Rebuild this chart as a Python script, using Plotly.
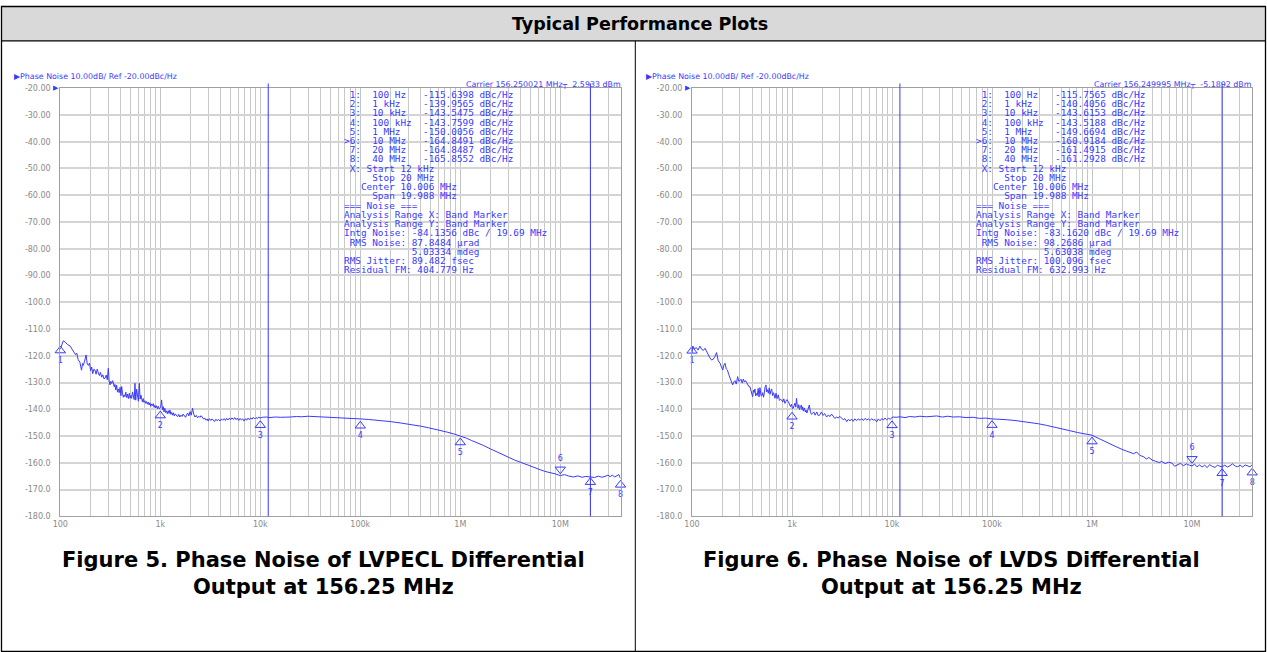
import numpy as np
import plotly.graph_objects as go

W, H = 1267, 652
BLUE = "#3a3aff"

# ---------------- data ----------------
freq_pecl = [100, 104, 107, 112, 118, 125, 131, 137, 142, 146, 151, 157, 160, 163, 167, 170, 175, 181, 186, 191,
             196, 201, 206, 211, 216, 222, 228, 234, 240, 246, 252, 259, 266, 273, 280, 288, 295, 302, 308,
             314, 320, 327, 333, 339, 346, 352, 359, 366, 373, 381, 389, 396, 404, 411, 419, 427, 434, 443, 452,
             461, 470, 480, 490, 500, 508, 517, 527, 537, 548, 558, 568, 580, 592, 604, 617, 628, 640, 651, 663,
             675, 687, 700, 715, 729, 743, 758, 773, 787, 803, 819, 835, 850, 867, 884, 900, 917, 935, 955, 977,
             1000, 1015, 1030, 1050, 1070, 1090, 1110, 1130, 1150, 1175, 1200, 1225, 1250, 1275, 1300, 1325, 1350,
             1380, 1410, 1450, 1490, 1530, 1570, 1610, 1650, 1690, 1740, 1790, 1830, 1880, 1930, 1980, 2040, 2100,
             2160, 2220, 2290, 2360, 2430, 2490, 2560, 2640, 2720, 2790, 2870, 2950, 3010, 3100, 3200, 3300, 3380,
             3480, 3600, 3700, 3820, 3950, 4080, 4200, 4350, 4480, 4600, 4750, 4900, 5050, 5200, 5380, 5550, 5720,
             5900, 6080, 6270, 6470, 6670, 6880, 7100, 7300, 7530, 7770, 8020, 8270, 8520, 8800, 9070, 9350, 9650,
             9940, 10500, 11500, 12500, 14000, 16000, 18000, 20000, 23000, 26000, 30000, 34000, 39000, 45000,
             52000, 60000, 70000, 80000, 90000, 100000, 120000, 140000, 170000, 200000, 250000, 300000, 350000,
             400000, 480000, 560000, 650000, 750000, 860000, 1000000, 1150000, 1300000, 1500000, 1700000, 2000000,
             2300000, 2600000, 3000000, 3500000, 4000000, 4500000, 5000000, 5600000, 6300000, 7000000, 8000000,
             9000000, 10000000, 11000000, 12000000, 13500000, 15000000, 16500000, 18000000, 20000000, 22000000,
             24000000, 26000000, 28000000, 30000000, 31500000, 33000000, 35000000, 37000000, 38500000, 40000000]
pn_pecl = [-117.6, -115.8, -114.4, -114.9, -115.8, -116.3, -117.5, -118.2, -119.6, -119.0, -121.5, -122.4, -124.6,
           -125.4, -122.9, -123.6, -122.0, -119.7, -123.1, -123.6, -122.7, -125.6, -124.2, -126.7, -125.1, -125.3,
           -126.9, -125.0, -126.4, -127.4, -126.2, -128.0, -127.1, -128.6, -128.4, -127.2, -129.0, -124.7, -129.4,
           -130.9, -129.6, -130.4, -129.3, -129.9, -131.6, -130.7, -132.8, -131.0, -133.6, -132.4, -133.8, -131.8,
           -134.9, -131.5, -134.1, -135.5, -134.6, -135.3, -133.6, -135.6, -134.3, -136.0, -134.0, -135.9, -134.8,
           -135.9, -133.5, -135.2, -136.4, -130.3, -136.6, -132.5, -135.4, -137.0, -130.3, -136.2, -134.7, -136.4,
           -137.3, -136.0, -137.4, -136.8, -137.8, -137.1, -138.1, -137.3, -138.4, -137.6, -138.9, -138.0, -138.6,
           -137.9, -139.3, -138.5, -139.5, -138.7, -139.8, -138.9, -139.9, -139.4, -138.6, -136.5, -140.2, -139.0,
           -141.0, -139.6, -141.2, -140.6, -141.7, -140.5, -141.6, -140.3, -141.9, -141.2, -142.2, -141.3, -142.5,
           -141.7, -142.1, -142.8, -141.9, -142.9, -142.2, -142.7, -141.8, -142.6, -143.0, -142.1, -141.4, -142.5,
           -140.9, -142.2, -139.6, -141.8, -142.9, -142.3, -143.2, -142.6, -143.0, -142.4, -143.1, -143.7, -143.3,
           -144.1, -143.6, -144.4, -143.5, -144.2, -143.6, -144.0, -144.6, -143.7, -144.3, -143.8, -144.4, -143.6,
           -144.1, -143.5, -144.2, -143.4, -144.0, -143.3, -143.9, -143.2, -143.8, -143.1, -143.9, -143.3, -144.2,
           -143.4, -144.0, -143.6, -144.4, -143.5, -144.1, -143.3, -143.9, -143.2, -143.7, -143.0, -143.6, -143.1,
           -143.5, -142.9, -143.3, -143.0, -142.9, -143.1, -142.9, -143.0, -142.8, -142.9, -142.7, -142.8, -142.6,
           -142.7, -142.8, -142.7, -142.9, -143.0, -143.1, -143.3, -143.4, -143.6, -143.8, -144.0, -144.3, -144.6,
           -145.1, -145.5, -145.9, -146.3, -146.9, -147.4, -148.0, -148.6, -149.2, -150.0, -150.8, -151.7, -152.6,
           -153.5, -154.8, -155.9, -156.9, -157.9, -159.0, -159.8, -160.6, -161.3, -161.9, -162.6, -163.2, -163.6,
           -164.2, -164.8, -164.4, -164.9, -165.3, -164.9, -165.4, -165.1, -165.2, -165.5, -165.0, -165.4, -165.1,
           -164.6, -165.2, -164.6, -165.3, -164.8, -164.4, -165.9]

freq_lvds = [100, 102, 106, 111, 115, 120, 125, 130, 135, 140, 146, 151, 157, 163, 170, 176, 183, 191, 197, 203,
             209, 214, 220, 226, 233, 240, 248, 255, 262, 269, 277, 286, 294, 302, 310, 318, 326, 335, 343, 352,
             361, 370, 380, 392, 404, 412, 419, 426, 433, 442, 450, 459, 468, 478, 490, 500, 509, 520, 530, 540,
             549, 558, 569, 580, 592, 604, 615, 626, 640, 655, 676, 692, 710, 730, 748, 766, 787, 808, 828, 850,
             870, 890, 918, 940, 968, 990, 1010, 1030, 1050, 1070, 1090, 1110, 1130, 1150, 1170, 1190, 1210, 1240,
             1260, 1280, 1300, 1330, 1360, 1380, 1410, 1440, 1490, 1530, 1570, 1610, 1650, 1700, 1770, 1830, 1900,
             1970, 2050, 2120, 2220, 2300, 2400, 2490, 2580, 2680, 2800, 2900, 3000, 3140, 3250, 3380, 3530, 3650,
             3800, 3960, 4100, 4250, 4440, 4600, 4800, 4980, 5180, 5380, 5590, 5820, 6050, 6270, 6500, 6760, 7030,
             7300, 7600, 7890, 8200, 8500, 8850, 9200, 9600, 10000, 10300, 11000, 12000, 13500, 15000, 17000,
             19000, 22000, 25000, 28000, 32000, 36000, 41000, 47000, 55000, 65000, 75000, 87000, 100000, 120000,
             140000, 170000, 200000, 240000, 290000, 350000, 420000, 500000, 600000, 720000, 850000, 1000000,
             1150000, 1300000, 1500000, 1700000, 2000000, 2300000, 2600000, 2800000, 3000000, 3300000, 3500000,
             3700000, 4000000, 4300000, 4700000, 5000000, 5400000, 5800000, 6300000, 6700000, 7200000, 7700000,
             8200000, 8800000, 9400000, 10000000, 10600000, 11200000, 11900000, 12600000, 13400000, 14200000,
             15000000, 16000000, 17000000, 18000000, 19000000, 20000000, 21300000, 22600000, 24000000, 25400000,
             27000000, 28600000, 30300000, 32100000, 34000000, 36000000, 38000000, 40000000]
pn_lvds = [-119.0, -116.4, -117.3, -117.0, -117.9, -116.4, -117.6, -118.0, -117.2, -118.4, -120.1, -120.8, -121.6,
           -121.3, -120.2, -118.8, -121.9, -122.8, -124.2, -125.3, -123.4, -122.8, -124.9, -125.3, -127.0, -128.4,
           -130.2, -130.9, -129.8, -129.3, -130.6, -127.8, -129.6, -129.1, -128.8, -130.2, -128.7, -129.8, -129.3,
           -130.0, -130.9, -131.5, -131.6, -133.9, -135.3, -132.9, -133.7, -132.4, -135.0, -134.1, -134.8, -132.2,
           -135.4, -131.9, -134.9, -135.0, -133.8, -135.5, -133.0, -131.4, -130.9, -133.5, -132.7, -134.0, -132.0,
           -134.4, -133.0, -132.4, -134.9, -133.8, -135.9, -134.0, -136.0, -134.6, -136.7, -136.3, -136.5, -137.3,
           -136.1, -137.8, -137.0, -136.4, -137.1, -138.3, -139.0, -138.1, -139.8, -139.6, -138.5, -137.7, -139.2,
           -135.9, -138.9, -139.6, -138.3, -140.1, -139.4, -138.4, -140.2, -139.1, -140.7, -139.5, -141.0, -140.3,
           -141.4, -139.8, -138.4, -141.1, -141.9, -141.5, -141.0, -142.2, -141.0, -142.4, -142.1, -141.0, -142.3,
           -141.6, -142.9, -142.2, -142.7, -141.8, -142.8, -143.4, -142.9, -143.3, -142.6, -143.4, -143.9, -143.5,
           -144.6, -143.8, -144.3, -143.7, -144.5, -143.6, -144.2, -143.6, -144.1, -143.5, -144.2, -143.4, -144.0,
           -143.6, -144.2, -143.5, -144.1, -143.8, -144.7, -143.6, -144.3, -143.5, -144.0, -143.3, -143.9, -143.4,
           -143.7, -143.1, -142.9, -143.0, -142.8, -143.1, -142.7, -142.9, -142.6, -142.8, -142.7, -142.5, -142.9,
           -142.6, -142.9, -142.8, -143.1, -143.0, -143.4, -143.3, -143.6, -143.7, -143.9, -144.2, -144.5, -144.8,
           -145.4, -146.0, -146.6, -147.3, -148.0, -148.7, -149.2, -149.7, -150.8, -151.8, -152.9, -153.8, -155.0,
           -155.8, -156.6, -156.0, -157.2, -157.8, -158.6, -158.0, -159.0, -159.4, -159.9, -159.5, -160.3, -159.8,
           -160.1, -161.3, -160.6, -160.2, -161.1, -160.4, -160.9, -161.2, -160.5, -161.5, -160.8, -161.6, -160.9,
           -161.8, -160.7, -161.4, -161.7, -160.9, -161.3, -161.5, -160.9, -161.6, -161.1, -160.4, -161.2, -161.5,
           -160.9, -161.6, -160.8, -161.3, -161.5, -160.7]

marker_freq = [100, 1e3, 1e4, 1e5, 1e6, 1e7, 2e7, 4e7]
marker_labels = ["1", "2", "3", "4", "5", "6", "7", "8"]
marker_freq_text = ["100 Hz", "1 kHz", "10 kHz", "100 kHz", "1 MHz", "10 MHz", "20 MHz", "40 MHz"]
marker_pecl = [-115.6398, -139.9565, -143.5475, -143.7599, -150.0056, -164.8491, -164.8487, -165.8552]
marker_lvds = [-115.7565, -140.4056, -143.6153, -143.5188, -149.6694, -160.9184, -161.4915, -161.2928]
active_marker = 5

band_start_hz = 12e3
band_stop_hz = 20e6

carrier_mhz = ["156.250021", "156.249995"]
carrier_dbm = ["2.5933", "-5.1892"]
intg_noise = ["-84.1356", "-83.1620"]
rms_noise_urad = ["87.8484", "98.2686"]
rms_noise_mdeg = ["5.03334", "5.63038"]
rms_jitter_fs = ["89.482", "100.096"]
residual_fm_hz = ["404.779", "632.993"]

y_ticks = [-20, -30, -40, -50, -60, -70, -80, -90, -100, -110, -120, -130, -140, -150, -160, -170, -180]
y_ticktext = ["-20.00", "-30.00", "-40.00", "-50.00", "-60.00", "-70.00", "-80.00", "-90.00", "-100.0",
              "-110.0", "-120.0", "-130.0", "-140.0", "-150.0", "-160.0", "-170.0", "-180.0"]
x_ticks = [1e2, 1e3, 1e4, 1e5, 1e6, 1e7]
x_ticktext = ["100", "1k", "10k", "100k", "1M", "10M"]

header_title = "Typical Performance Plots"
captions = [("Figure 5. Phase Noise of LVPECL Differential", "Output at 156.25 MHz"),
            ("Figure 6. Phase Noise of LVDS Differential", "Output at 156.25 MHz")]
plot_title = "▶Phase Noise 10.00dB/ Ref -20.00dBc/Hz"

# ---------------- layout helpers ----------------
def px(x):
    return x / W


def py(y):
    return 1 - y / H


PLOT_X = [(60.3, 620.5), (692.0, 1252.2)]
PT, PB = 88.2, 516.3
NBSP = "\u00a0"


def fmt_freq(hz):
    if hz >= 1e6:
        return f"{hz / 1e6:g} MHz"
    return f"{hz / 1e3:g} kHz"


def table_lines(k, vals):
    lines = []
    for i, (lab, ft, v) in enumerate(zip(marker_labels, marker_freq_text, vals)):
        pre = (">" if i == active_marker else " ") + lab + ":"
        lines.append(f"{pre}  {ft:<9}{v:.4f} dBc/Hz")
    center = (band_start_hz + band_stop_hz) / 2
    span = band_stop_hz - band_start_hz
    lines += [
        f" X: Start {fmt_freq(band_start_hz)}",
        f"     Stop {fmt_freq(band_stop_hz)}",
        f"   Center {center / 1e6:.3f} MHz",
        f"     Span {span / 1e6:.3f} MHz",
        "=== Noise ===",
        "Analysis Range X: Band Marker",
        "Analysis Range Y: Band Marker",
        f"Intg Noise: {intg_noise[k]} dBc / 19.69 MHz",
        f" RMS Noise: {rms_noise_urad[k]} µrad",
        f"            {rms_noise_mdeg[k]} mdeg",
        f"RMS Jitter: {rms_jitter_fs[k]} fsec",
        f"Residual FM: {residual_fm_hz[k]} Hz",
    ]
    return lines


minor_vals = [m * 10 ** e for e in range(2, 8) for m in range(2, 10) if m * 10 ** e < 4e7]

fig = go.Figure()
annotations = []
shapes = []

series = [(freq_pecl, pn_pecl, marker_pecl), (freq_lvds, pn_lvds, marker_lvds)]
tick_font = dict(family="DejaVu Sans", size=8, color="#8a8a8a")

for k, (fr, pn, mv) in enumerate(series):
    xa = "x" if k == 0 else "x2"
    ya = "y" if k == 0 else "y2"
    x0, x1 = PLOT_X[k]

    fig.add_trace(go.Scatter(x=fr, y=pn, mode="lines", line=dict(color=BLUE, width=1),
                             xaxis=xa, yaxis=ya, hoverinfo="skip"))

    idx = [i for i in range(len(marker_freq)) if i != active_marker]
    fig.add_trace(go.Scatter(
        x=[marker_freq[i] for i in idx], y=[mv[i] - 2.4 for i in idx],
        mode="markers+text", text=[marker_labels[i] for i in idx], textposition="bottom center",
        textfont=dict(family="DejaVu Sans", size=8, color=BLUE),
        marker=dict(symbol="triangle-up-open", size=9, color=BLUE, line=dict(width=1, color=BLUE)),
        cliponaxis=False, xaxis=xa, yaxis=ya, hoverinfo="skip"))
    fig.add_trace(go.Scatter(
        x=[marker_freq[active_marker]], y=[mv[active_marker] + 2.4],
        mode="markers+text", text=[marker_labels[active_marker]], textposition="top center",
        textfont=dict(family="DejaVu Sans", size=8, color=BLUE),
        marker=dict(symbol="triangle-down-open", size=9, color=BLUE, line=dict(width=1, color=BLUE)),
        cliponaxis=False, xaxis=xa, yaxis=ya, hoverinfo="skip"))
    # marker indicators under the axis
    syms = ["triangle-up" if i == active_marker else "triangle-up-open" for i in range(len(marker_freq))]
    fig.add_trace(go.Scatter(
        x=marker_freq, y=[-181] * len(marker_freq), mode="markers",
        marker=dict(symbol=syms, size=7, color=BLUE, line=dict(width=1, color=BLUE)),
        cliponaxis=False, xaxis=xa, yaxis=ya, hoverinfo="skip"))
    # band marker flag
    fig.add_trace(go.Scatter(
        x=[band_start_hz * 1.06], y=[-18.9], mode="markers",
        marker=dict(symbol="triangle-nw", size=6, color=BLUE, line=dict(width=0)),
        cliponaxis=False, xaxis=xa, yaxis=ya, hoverinfo="skip"))

    # band lines
    for f in (band_start_hz, band_stop_hz):
        shapes.append(dict(type="line", xref=xa, yref="paper", x0=f, x1=f, y0=py(PB), y1=py(83.5),
                           line=dict(color=BLUE, width=1), layer="above"))

    # header of plot
    annotations.append(dict(text=plot_title, xref="paper", yref="paper", x=px(x0 - 47.5), y=py(76.5),
                            xanchor="left", yanchor="middle", showarrow=False, borderpad=0,
                            font=dict(family="DejaVu Sans", size=7.9, color=BLUE)))
    annotations.append(dict(text=f"Carrier {carrier_mhz[k]} MHz┬  {carrier_dbm[k]} dBm",
                            xref="paper", yref="paper", x=px(x1 + 1), y=py(84.5),
                            xanchor="right", yanchor="middle", showarrow=False, borderpad=0,
                            font=dict(family="DejaVu Sans", size=7.9, color=BLUE)))
    annotations.append(dict(text="▶", xref=xa + " domain", yref=ya, x=0, y=-20, xanchor="right",
                            yanchor="middle", showarrow=False, borderpad=0,
                            font=dict(family="DejaVu Sans", size=7, color=BLUE)))
    # marker table
    for j, line in enumerate(table_lines(k, mv)):
        annotations.append(dict(text=line.replace(" ", NBSP), xref="paper", yref="paper",
                                x=px(x0 + 282.7), y=py(94.3 + 9.24 * j), xanchor="left", yanchor="middle",
                                showarrow=False, borderpad=0,
                                font=dict(family="DejaVu Sans Mono", size=9.4, color=BLUE)))
    # caption (two lines)
    cx = (323.5, 951.0)[k]
    annotations.append(dict(text="<br>".join(captions[k]), xref="paper", yref="paper", x=px(cx), y=py(573),
                            xanchor="center", yanchor="middle", align="center", showarrow=False, borderpad=0,
                            font=dict(family="DejaVu Sans", size=21, color="black", weight="bold")))

# page frame
shapes += [
    dict(type="rect", xref="paper", yref="paper", x0=px(1.5), x1=px(1265.5), y0=py(6.5), y1=py(40.8),
         fillcolor="#d9d9d9", line=dict(width=0), layer="below"),
    dict(type="rect", xref="paper", yref="paper", x0=px(1.5), x1=px(1265.5), y0=py(6.5), y1=py(651.5),
         line=dict(color="black", width=1.3), fillcolor="rgba(0,0,0,0)", layer="above"),
    dict(type="line", xref="paper", yref="paper", x0=px(1.5), x1=px(1265.5), y0=py(40.8), y1=py(40.8),
         line=dict(color="black", width=1.3), layer="above"),
    dict(type="line", xref="paper", yref="paper", x0=px(635.3), x1=px(635.3), y0=py(40.8), y1=py(651.5),
         line=dict(color="black", width=1), layer="above"),
]
annotations.append(dict(text=header_title, xref="paper", yref="paper", x=px(639.5), y=py(24),
                        xanchor="center", yanchor="middle", showarrow=False, borderpad=0,
                        font=dict(family="DejaVu Sans", size=17.5, color="black", weight="bold")))


def xaxis(k):
    x0, x1 = PLOT_X[k]
    return dict(type="log", range=[2, np.log10(4e7)], domain=[px(x0), px(x1)],
                anchor="y" if k == 0 else "y2", automargin=False,
                tickmode="array", tickvals=x_ticks, ticktext=x_ticktext, tickfont=tick_font,
                ticks="", ticklabelstandoff=0,
                showgrid=True, gridcolor="#c4c4c4", gridwidth=1,
                minor=dict(tickmode="array", tickvals=minor_vals, showgrid=True, gridcolor="#c8c8c8",
                           gridwidth=1, ticks=""),
                showline=True, linecolor="#a0a0a0", linewidth=1, mirror=True, zeroline=False)


def yaxis(k):
    return dict(range=[-180, -20], domain=[py(PB), py(PT)], anchor="x" if k == 0 else "x2",
                automargin=False,
                tickmode="array", tickvals=y_ticks, ticktext=y_ticktext, tickfont=tick_font,
                ticks="", ticklabelstandoff=7,
                showgrid=True, gridcolor="#d4d4d4", gridwidth=2,
                showline=True, linecolor="#a0a0a0", linewidth=1, mirror=True, zeroline=False)


fig.update_layout(
    width=W, height=H, margin=dict(l=0, r=0, t=0, b=0, pad=0, autoexpand=False),
    paper_bgcolor="white", plot_bgcolor="white", showlegend=False,
    xaxis=xaxis(0), yaxis=yaxis(0), xaxis2=xaxis(1), yaxis2=yaxis(1),
    shapes=shapes, annotations=annotations,
)

fig.write_html("out.html", config={"displayModeBar": False},
               post_script="document.body.style.margin='0';")
